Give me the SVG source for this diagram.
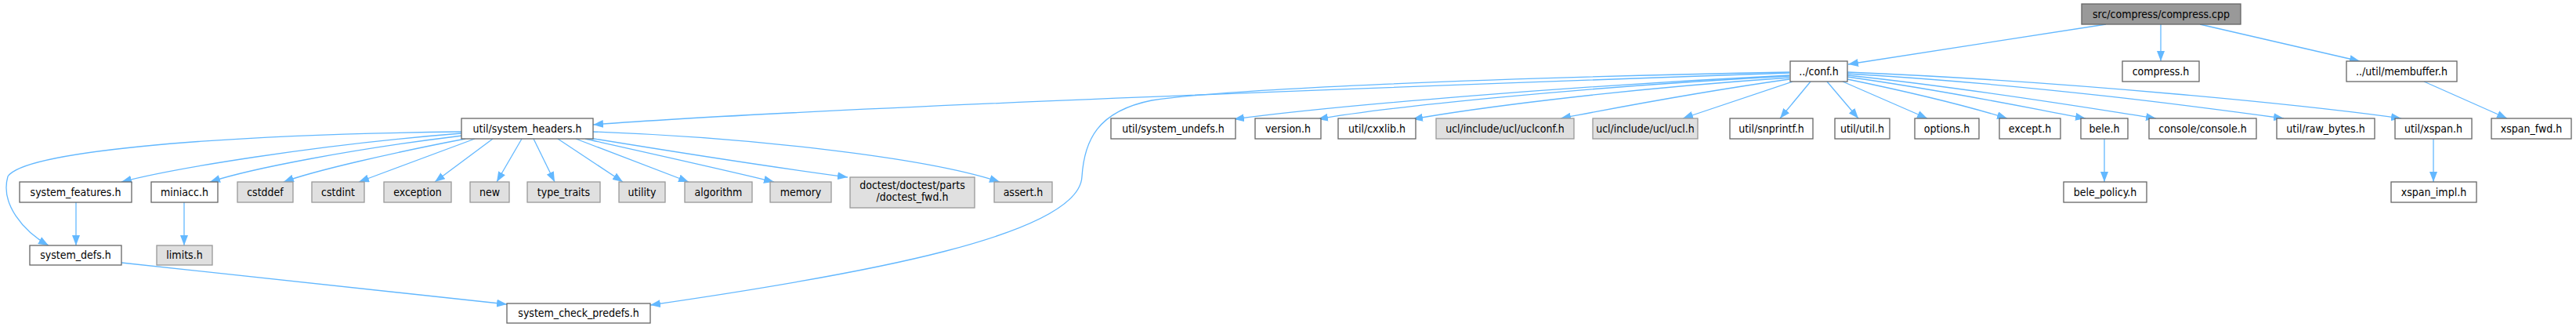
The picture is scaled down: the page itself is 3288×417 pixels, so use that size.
<svg xmlns="http://www.w3.org/2000/svg" width="3288" height="417" viewBox="0 0 3288 417">
<style>
.e{fill:none;stroke:#63b8ff;stroke-width:1.3;marker-end:url(#ah)}
.n rect{fill:#ffffff;stroke:#666666;stroke-width:1.3}
.g rect{fill:#e0e0e0;stroke:#999999;stroke-width:1.3}
.r rect{fill:#999999;stroke:#666666;stroke-width:1.3}
text{font-family:"DejaVu Sans Condensed","DejaVu Sans",sans-serif;font-stretch:condensed;font-size:14px;fill:#000;text-anchor:middle}
</style>
<defs>
<marker id="ah" markerWidth="13" markerHeight="10" refX="13" refY="5" orient="auto" markerUnits="userSpaceOnUse">
<path d="M0,0 L13,5 L0,10 z" fill="#63b8ff"/>
</marker>
</defs>
<rect width="3288" height="417" fill="#ffffff"/>
<g id="edges">
<path class="e" d="M2688,31 L2359,82"/>
<path class="e" d="M2758,31 L2758,78"/>
<path class="e" d="M2808,31 L3012,78"/>
<path class="e" d="M3094,104 L3200,151"/>
<path class="e" d="M2284,93 C1800,110 1000,140 757,159"/>
<path class="e" d="M2284,92 C1900,99 1560,114 1470,128 C1400,142 1384,180 1381,225 C1378,300 1100,350 830,389"/>
<path class="e" d="M2284,96 C2000,110 1700,135 1575,152"/>
<path class="e" d="M2284,97 C2000,112 1760,138 1682,152"/>
<path class="e" d="M2284,99 C2050,115 1870,140 1803,152"/>
<path class="e" d="M2284,101 C2150,120 2050,140 1992,151"/>
<path class="e" d="M2288,104 L2148,151"/>
<path class="e" d="M2311,104 L2272,151"/>
<path class="e" d="M2332,104 L2372,151"/>
<path class="e" d="M2352,104 L2460,151"/>
<path class="e" d="M2358,101 C2450,120 2520,138 2562,151"/>
<path class="e" d="M2358,98 C2500,118 2600,140 2662,151"/>
<path class="e" d="M2358,96 C2520,113 2680,140 2752,151"/>
<path class="e" d="M2358,94 C2600,108 2820,138 2915,151"/>
<path class="e" d="M2358,92 C2650,104 2950,135 3065,151"/>
<path class="e" d="M589,168 C250,172 30,195 10,225 C0,260 30,295 62,313"/>
<path class="e" d="M589,170 C400,185 220,215 155,232"/>
<path class="e" d="M590,173 C450,190 320,215 268,232"/>
<path class="e" d="M594,177 C500,195 400,218 362,232"/>
<path class="e" d="M606,177 L458,232"/>
<path class="e" d="M629,177 L555,232"/>
<path class="e" d="M666,177 L634,232"/>
<path class="e" d="M681,177 L708,232"/>
<path class="e" d="M712,177 L795,232"/>
<path class="e" d="M735,177 L879,232"/>
<path class="e" d="M747,177 C850,200 940,220 988,232"/>
<path class="e" d="M753,176 C900,200 1000,215 1082,226"/>
<path class="e" d="M757,168 C950,175 1180,200 1276,232"/>
<path class="e" d="M97,258 L97,313"/>
<path class="e" d="M235,258 L235,313"/>
<path class="e" d="M155,335 L647,388"/>
<path class="e" d="M2686,177 L2686,232"/>
<path class="e" d="M3106,177 L3106,232"/>
</g>
<g id="node-root" class="r"><rect x="2657" y="5" width="203" height="26"/><text x="2758.5" y="22.5">src/compress/compress.cpp</text></g>
<g id="node-conf" class="n"><rect x="2285" y="78" width="73" height="26"/><text x="2321.5" y="95.5">../conf.h</text></g>
<g id="node-compress" class="n"><rect x="2709" y="78" width="98" height="26"/><text x="2758" y="95.5">compress.h</text></g>
<g id="node-membuffer" class="n"><rect x="2995" y="78" width="141" height="26"/><text x="3065.5" y="95.5">../util/membuffer.h</text></g>
<g id="node-system_headers" class="n"><rect x="589" y="151" width="168" height="26"/><text x="673" y="168.5">util/system_headers.h</text></g>
<g id="node-system_undefs" class="n"><rect x="1418" y="151" width="159" height="26"/><text x="1497.5" y="168.5">util/system_undefs.h</text></g>
<g id="node-version" class="n"><rect x="1602" y="151" width="84" height="26"/><text x="1644" y="168.5">version.h</text></g>
<g id="node-cxxlib" class="n"><rect x="1708" y="151" width="99" height="26"/><text x="1757.5" y="168.5">util/cxxlib.h</text></g>
<g id="node-uclconf" class="g"><rect x="1833" y="151" width="176" height="26"/><text x="1921" y="168.5">ucl/include/ucl/uclconf.h</text></g>
<g id="node-ucl" class="g"><rect x="2033" y="151" width="134" height="26"/><text x="2100" y="168.5">ucl/include/ucl/ucl.h</text></g>
<g id="node-snprintf" class="n"><rect x="2208" y="151" width="106" height="26"/><text x="2261" y="168.5">util/snprintf.h</text></g>
<g id="node-util" class="n"><rect x="2342" y="151" width="70" height="26"/><text x="2377" y="168.5">util/util.h</text></g>
<g id="node-options" class="n"><rect x="2444" y="151" width="82" height="26"/><text x="2485" y="168.5">options.h</text></g>
<g id="node-except" class="n"><rect x="2552" y="151" width="78" height="26"/><text x="2591" y="168.5">except.h</text></g>
<g id="node-bele" class="n"><rect x="2656" y="151" width="60" height="26"/><text x="2686" y="168.5">bele.h</text></g>
<g id="node-console" class="n"><rect x="2743" y="151" width="137" height="26"/><text x="2811.5" y="168.5">console/console.h</text></g>
<g id="node-raw_bytes" class="n"><rect x="2906" y="151" width="125" height="26"/><text x="2968.5" y="168.5">util/raw_bytes.h</text></g>
<g id="node-xspan" class="n"><rect x="3057" y="151" width="98" height="26"/><text x="3106" y="168.5">util/xspan.h</text></g>
<g id="node-xspan_fwd" class="n"><rect x="3180" y="151" width="102" height="26"/><text x="3231" y="168.5">xspan_fwd.h</text></g>
<g id="node-system_features" class="n"><rect x="25" y="232" width="143" height="26"/><text x="96.5" y="249.5">system_features.h</text></g>
<g id="node-miniacc" class="n"><rect x="193" y="232" width="85" height="26"/><text x="235.5" y="249.5">miniacc.h</text></g>
<g id="node-cstddef" class="g"><rect x="303" y="232" width="71" height="26"/><text x="338.5" y="249.5">cstddef</text></g>
<g id="node-cstdint" class="g"><rect x="398" y="232" width="67" height="26"/><text x="431.5" y="249.5">cstdint</text></g>
<g id="node-exception" class="g"><rect x="490" y="232" width="86" height="26"/><text x="533" y="249.5">exception</text></g>
<g id="node-new" class="g"><rect x="600" y="232" width="50" height="26"/><text x="625" y="249.5">new</text></g>
<g id="node-type_traits" class="g"><rect x="673" y="232" width="93" height="26"/><text x="719.5" y="249.5">type_traits</text></g>
<g id="node-utility" class="g"><rect x="790" y="232" width="59" height="26"/><text x="819.5" y="249.5">utility</text></g>
<g id="node-algorithm" class="g"><rect x="874" y="232" width="86" height="26"/><text x="917" y="249.5">algorithm</text></g>
<g id="node-memory" class="g"><rect x="983" y="232" width="78" height="26"/><text x="1022" y="249.5">memory</text></g>
<g id="node-doctest" class="g"><rect x="1085" y="226" width="159" height="39"/><text x="1164.5" y="241">doctest/doctest/parts</text><text x="1164.5" y="256">/doctest_fwd.h</text></g>
<g id="node-assert" class="g"><rect x="1269" y="232" width="74" height="26"/><text x="1306" y="249.5">assert.h</text></g>
<g id="node-bele_policy" class="n"><rect x="2634" y="232" width="106" height="26"/><text x="2687" y="249.5">bele_policy.h</text></g>
<g id="node-xspan_impl" class="n"><rect x="3052" y="232" width="109" height="26"/><text x="3106.5" y="249.5">xspan_impl.h</text></g>
<g id="node-system_defs" class="n"><rect x="38" y="313" width="117" height="25"/><text x="96.5" y="330">system_defs.h</text></g>
<g id="node-limits" class="g"><rect x="200" y="313" width="71" height="25"/><text x="235.5" y="330">limits.h</text></g>
<g id="node-system_check_predefs" class="n"><rect x="647" y="387" width="183" height="25"/><text x="738.5" y="404">system_check_predefs.h</text></g>
</svg>
